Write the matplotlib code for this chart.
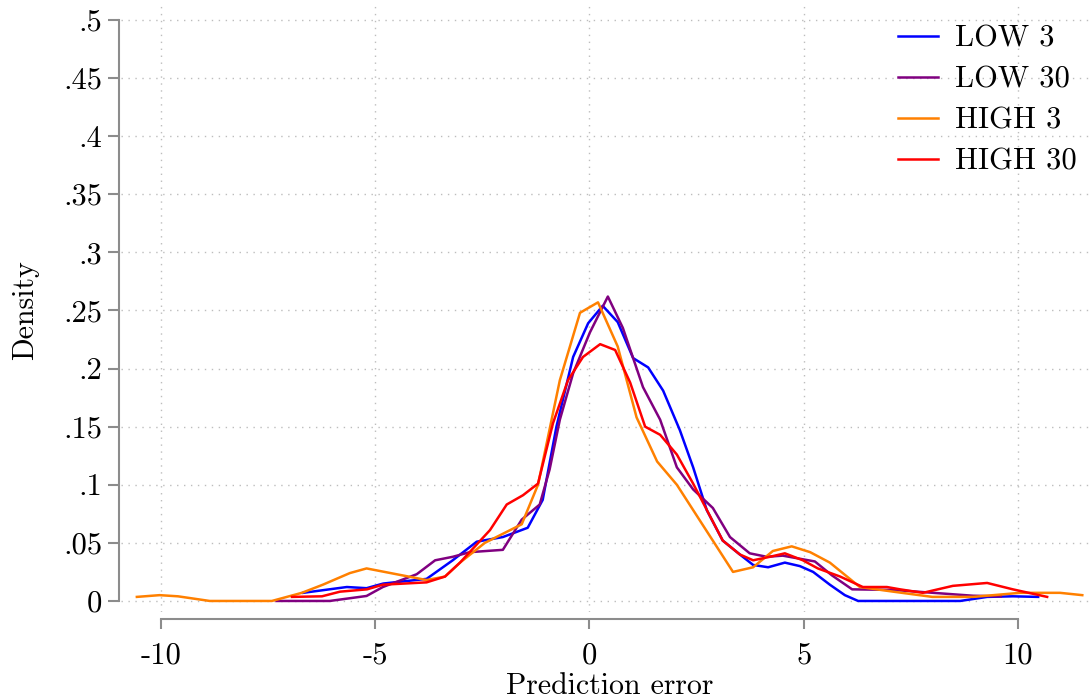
import matplotlib
matplotlib.use("Agg")
import matplotlib.pyplot as plt

# --- values (prediction error vs density) ---
low3_x = [-6.68, -5.66, -5.2, -4.81, -3.8, -3.19, -2.63, -2.02, -1.44, -1.09, -0.77,
          -0.38, -0.03, 0.31, 0.66, 1.02, 1.37, 1.72, 2.11, 2.42, 2.74, 3.11, 3.51,
          3.82, 4.17, 4.56, 4.91, 5.22, 5.61, 5.96, 6.27, 8.65, 9.28, 9.88, 10.47]
low3_y = [0.007, 0.012, 0.011, 0.015, 0.019, 0.035, 0.051, 0.055, 0.063, 0.087, 0.150,
          0.210, 0.239, 0.254, 0.240, 0.209, 0.201, 0.181, 0.147, 0.115, 0.078, 0.052, 0.040,
          0.031, 0.029, 0.033, 0.030, 0.025, 0.014, 0.005, 0.0, 0.0, 0.0035, 0.004, 0.0035]

low30_x = [-7.3, -6.06, -5.2, -4.82, -4.03, -3.6, -3.19, -2.79, -2.02, -1.58, -1.16,
           -0.93, -0.69, -0.38, 0.01, 0.43, 0.78, 1.25, 1.65, 2.04, 2.42, 2.88, 3.28,
           3.74, 4.14, 4.51, 5.26, 5.66, 6.13, 7.08, 8.02, 8.95, 9.6]
low30_y = [0.0, 0.0, 0.0043, 0.012, 0.023, 0.035, 0.038, 0.042, 0.044, 0.070, 0.083,
           0.113, 0.156, 0.196, 0.231, 0.262, 0.235, 0.184, 0.156, 0.115, 0.096, 0.080, 0.055,
           0.041, 0.038, 0.039, 0.034, 0.022, 0.010, 0.0095, 0.007, 0.0045, 0.004]

high3_x = [-10.56, -10.03, -9.6, -8.86, -7.41, -6.71, -6.22, -5.59, -5.2, -3.8, -3.37,
           -3.02, -2.44, -1.58, -1.2, -0.69, -0.22, 0.2, 0.66, 1.1, 1.58, 2.04, 3.35,
           3.82, 4.28, 4.72, 5.15, 5.61, 6.31, 7.09, 8.0, 8.95, 10.05, 10.98, 11.5]
high3_y = [0.0035, 0.005, 0.004, 0.0, 0.0, 0.007, 0.014, 0.024, 0.028, 0.018, 0.021,
           0.033, 0.050, 0.066, 0.100, 0.190, 0.248, 0.257, 0.219, 0.158, 0.120, 0.100, 0.025,
           0.029, 0.043, 0.047, 0.042, 0.033, 0.012, 0.008, 0.0035, 0.0035, 0.007, 0.007, 0.005]

high30_x = [-6.94, -6.24, -5.82, -5.19, -4.82, -3.8, -3.37, -3.02, -2.32, -1.93, -1.55,
            -1.2, -0.85, -0.5, -0.15, 0.25, 0.6, 0.95, 1.3, 1.65, 2.04, 2.42, 3.11,
            3.51, 3.82, 4.21, 4.56, 4.98, 5.33, 5.85, 6.38, 6.94, 7.25, 7.78, 8.48,
            9.28, 9.88, 10.68]
high30_y = [0.0035, 0.004, 0.008, 0.010, 0.014, 0.016, 0.021, 0.033, 0.061, 0.083, 0.091,
            0.101, 0.153, 0.190, 0.210, 0.221, 0.216, 0.188, 0.150, 0.143, 0.126, 0.101, 0.052,
            0.040, 0.035, 0.038, 0.041, 0.035, 0.028, 0.021, 0.012, 0.012, 0.010, 0.007, 0.013,
            0.0155, 0.010, 0.0035]

x_ticks = [-10, -5, 0, 5, 10]
x_tick_labels = ["-10", "-5", "0", "5", "10"]
y_ticks = [0, 0.05, 0.1, 0.15, 0.2, 0.25, 0.3, 0.35, 0.4, 0.45, 0.5]
y_tick_labels = ["0", ".05", ".1", ".15", ".2", ".25", ".3", ".35", ".4", ".45", ".5"]

# --- Stata-like look, Computer Modern text ------------------------
plt.rcParams["font.family"] = ["cmr10", "DejaVu Serif"]
plt.rcParams["axes.unicode_minus"] = False
plt.rcParams["font.size"] = 22

W, H = 1090, 700
fig = plt.figure(figsize=(W / 100, H / 100), dpi=100)
# plot region in pixels: left 121, right 1090, top 5, bottom 612
ax = fig.add_axes([121 / W, 1 - 612 / H, (1090 - 121) / W, (612 - 5) / H])

lw = 1.8
ax.plot(low3_x, low3_y, color="#0000ff", lw=lw, label="LOW 3")
ax.plot(low30_x, low30_y, color="#800080", lw=lw, label="LOW 30")
ax.plot(high3_x, high3_y, color="#ff8000", lw=lw, label="HIGH 3")
ax.plot(high30_x, high30_y, color="#ff0000", lw=lw, label="HIGH 30")

ax.set_xlim(-10.93, 11.68)
ax.set_ylim(-0.0095, 0.5129)

ax.set_xticks(x_ticks)
ax.set_xticklabels(x_tick_labels)
ax.set_yticks(y_ticks)
ax.set_yticklabels(y_tick_labels)

ax.grid(True, color="#bdbdbd", lw=1.0, linestyle=(0, (1, 4)))
ax.set_axisbelow(True)

# axis lines only over the tick range, pushed out from the plot region
for side in ["top", "right"]:
    ax.spines[side].set_visible(False)
ax.spines["left"].set_position(("outward", 1.5))
ax.spines["bottom"].set_position(("outward", 5))
ax.spines["left"].set_bounds(0, 0.5)
ax.spines["bottom"].set_bounds(-10, 10)
for side in ["left", "bottom"]:
    ax.spines[side].set_color("#8c8c8c")
    ax.spines[side].set_linewidth(1.5)

ax.tick_params(axis="y", direction="out", length=8, width=1.5, color="#8c8c8c",
               pad=4, labelsize=22)
ax.tick_params(axis="x", direction="out", length=7, width=1.5, color="#8c8c8c",
               pad=10, labelsize=22)

fig.text(25 / W, 1 - 310 / H, "Density", rotation=90, ha="center", va="center", fontsize=21.5)
fig.text(610 / W, 1 - 686 / H, "Prediction error", ha="center", va="center", fontsize=21.5)

ax.legend(loc="upper left", bbox_to_anchor=(898 / W, 1 - 25 / H),
          bbox_transform=fig.transFigure, frameon=False, fontsize=22,
          handlelength=1.3, handletextpad=0.55, labelspacing=0.45,
          borderpad=0, borderaxespad=0)

fig.savefig("out.png", dpi=100)
